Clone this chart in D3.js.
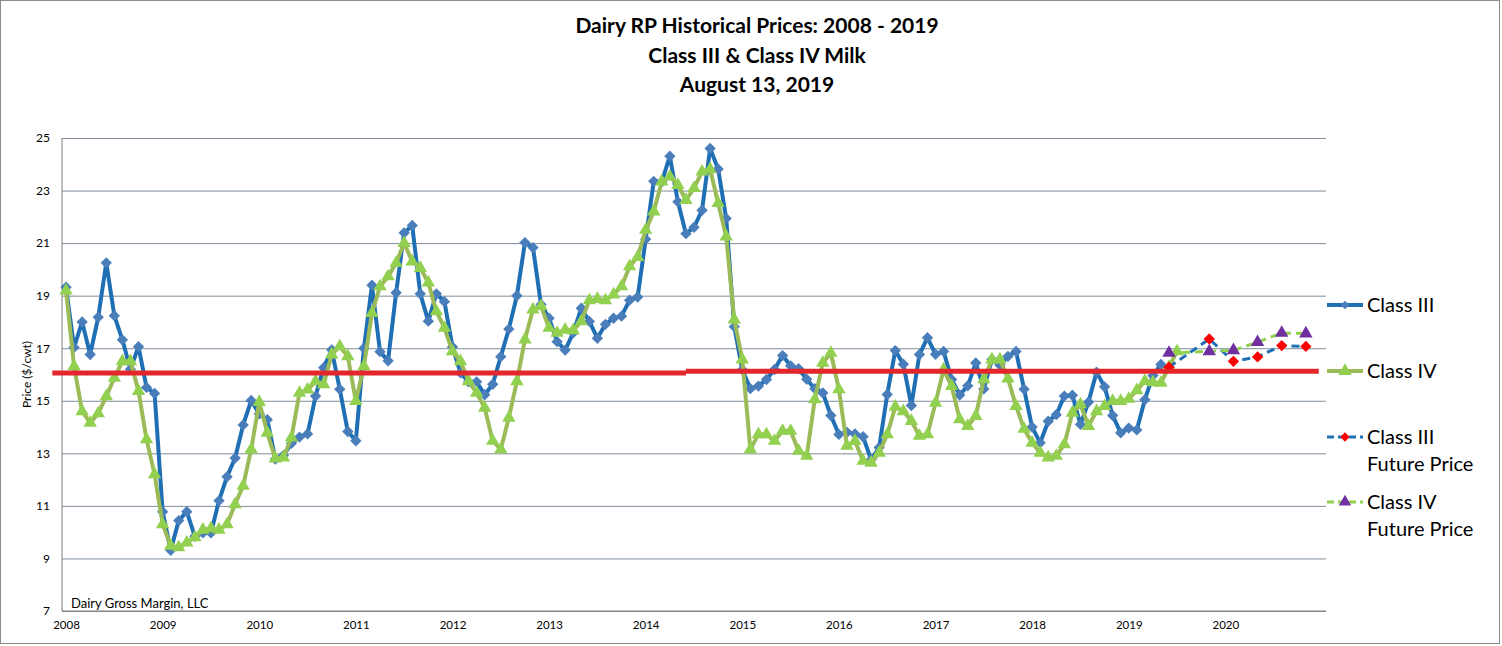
<!DOCTYPE html>
<html>
<head>
<meta charset="utf-8">
<script src="https://cdn.jsdelivr.net/npm/d3@7"></script>
<style>
  body { margin: 0; background: #fff; }
  svg { display: block; }
  text { font-family: Lato, "Open Sans", sans-serif; fill: #000; }
</style>
</head>
<body>
<svg id="chart" width="1502" height="646"></svg>
<script>
// Monthly prices ($/cwt), first value is January 2008
const startYear = 2008;

const classIII = [
  19.32, 17.03, 18.00, 16.76, 18.18, 20.25, 18.24, 17.32, 16.20, 17.06, 15.51, 15.28, // 2008
  10.78,  9.31, 10.44, 10.78,  9.84,  9.97,  9.97, 11.20, 12.11, 12.82, 14.08, 15.01, // 2009
  14.50, 14.28, 12.78, 12.92, 13.38, 13.62, 13.74, 15.18, 16.26, 16.94, 15.44, 13.83, // 2010
  13.48, 17.00, 19.40, 16.87, 16.52, 19.11, 21.39, 21.67, 19.07, 18.03, 19.07, 18.77, // 2011
  17.05, 16.06, 15.72, 15.72, 15.23, 15.63, 16.68, 17.73, 19.00, 21.02, 20.83, 18.66, // 2012
  18.14, 17.25, 16.93, 17.59, 18.52, 18.02, 17.38, 17.91, 18.14, 18.22, 18.83, 18.95, // 2013
  21.15, 23.35, 23.33, 24.31, 22.57, 21.36, 21.60, 22.25, 24.60, 23.82, 21.94, 17.82, // 2014
  16.18, 15.46, 15.56, 15.81, 16.19, 16.72, 16.33, 16.22, 15.82, 15.46, 15.30, 14.44, // 2015
  13.72, 13.80, 13.74, 13.63, 12.76, 13.22, 15.24, 16.91, 16.39, 14.82, 16.76, 17.40, // 2016
  16.77, 16.88, 15.81, 15.22, 15.57, 16.44, 15.45, 16.57, 16.36, 16.69, 16.88, 15.44, // 2017
  14.00, 13.40, 14.22, 14.47, 15.18, 15.21, 14.10, 14.95, 16.09, 15.53, 14.44, 13.78, // 2018
  13.96, 13.89, 15.04, 15.96, 16.38, 16.27                                            // 2019
];

const classIV = [
  19.19, 16.31, 14.60, 14.16, 14.52, 15.17, 15.87, 16.50, 16.50, 15.37, 13.53, 12.20, // 2008
  10.30,  9.48,  9.42,  9.60,  9.80, 10.09, 10.14, 10.09, 10.30, 11.06, 11.76, 13.15, // 2009
  14.95, 13.78, 12.80, 12.84, 13.60, 15.30, 15.42, 15.74, 15.62, 16.76, 17.07, 16.69, // 2010
  14.99, 16.31, 18.34, 19.35, 19.73, 20.24, 21.00, 20.30, 20.05, 19.50, 18.40, 17.77, // 2011
  16.88, 16.50, 15.74, 15.30, 14.73, 13.47, 13.15, 14.35, 15.74, 17.33, 18.47, 18.60, // 2012
  17.77, 17.58, 17.70, 17.68, 18.02, 18.82, 18.87, 18.82, 19.04, 19.35, 20.11, 20.47, // 2013
  21.50, 22.20, 23.34, 23.53, 23.21, 22.64, 23.09, 23.72, 23.81, 22.52, 21.25, 18.09, // 2014
  16.57, 13.15, 13.72, 13.72, 13.47, 13.85, 13.85, 13.09, 12.90, 15.05, 16.44, 16.82, // 2015
  15.43, 13.28, 13.47, 12.71, 12.64, 13.02, 13.72, 14.77, 14.60, 14.23, 13.66, 13.72, // 2016
  14.92, 16.19, 15.56, 14.29, 14.04, 14.42, 15.81, 16.57, 16.57, 15.84, 14.80, 13.93, // 2017
  13.40, 13.02, 12.84, 12.90, 13.34, 14.54, 14.86, 14.04, 14.60, 14.80, 14.99, 14.99, // 2018
  15.07, 15.40, 15.75, 15.70, 15.68, 16.29, 16.88                                     // 2019
];

const futureMonths = ["2019-06", "2019-11", "2020-02", "2020-05", "2020-08", "2020-11"];
const classIIIFuture = [16.28, 17.35, 16.50, 16.67, 17.10, 17.07];
const classIVFuture = [16.82, 16.88, 16.92, 17.23, 17.58, 17.56];

// red guide line drawn over the chart (two pieces, slight step)
const guideLevels = [16.06, 16.12];
const guideMonths = [-1.2, 77.5, 156.1];

const yTicks = [7, 9, 11, 13, 15, 17, 19, 21, 23, 25];
const yearLabels = ["2008", "2009", "2010", "2011", "2012", "2013", "2014",
                    "2015", "2016", "2017", "2018", "2019", "2020"];
const titleLines = ["Dairy RP Historical Prices: 2008 - 2019",
                    "Class III  & Class IV Milk",
                    "August 13, 2019"];

const colIII = "#1f6fb5", colIIIMark = "#4a7ebb";
const colIV = "#9bbb59", colIVMark = "#92d050";
const colIIIFut = "#ff0000", colIVFut = "#7030a0";

const svg = d3.select("#chart");
const W = 1502, H = 646;

// chart border
svg.append("rect")
  .attr("x", 0.5).attr("y", 0.5).attr("width", W - 3).attr("height", H - 3)
  .attr("fill", "none").attr("stroke", "#8c8c8c");

const monthIndex = s => (+s.slice(0, 4) - startYear) * 12 + (+s.slice(5, 7) - 1);

// slot scale: month i is drawn at the middle of slot i
const x = d3.scaleLinear().domain([0, 157]).range([62, 1326]);
const y = d3.scaleLinear().domain([7, 25]).range([611, 138]);
const xm = i => x(i + 0.5);

// gridlines + y labels
const yAxis = d3.axisLeft(y).tickValues(yTicks).tickSize(-(x(157) - x(0))).tickPadding(12);
const gy = svg.append("g").attr("transform", `translate(${x(0)},0)`).call(yAxis);
gy.select(".domain").remove();
gy.selectAll(".tick line").attr("stroke", "#7f8d9a").attr("stroke-width", 1);
gy.selectAll(".tick text").style("font-size", "12px").style("font-family", "Lato").attr("fill", "#000");

// axis lines
svg.append("line").attr("x1", x(0)).attr("x2", x(0)).attr("y1", y(25)).attr("y2", y(7))
  .attr("stroke", "#7f7f7f");
svg.append("line").attr("x1", x(0)).attr("x2", x(157)).attr("y1", y(7)).attr("y2", y(7))
  .attr("stroke", "#7f7f7f");

// x labels at each January
const xAxis = d3.axisBottom(x)
  .tickValues(yearLabels.map((d, k) => k * 12 + 0.5))
  .tickFormat((d, k) => yearLabels[k])
  .tickSize(0).tickPadding(10);
const gx = svg.append("g").attr("transform", `translate(0,${y(7)})`).call(xAxis);
gx.select(".domain").remove();
gx.selectAll(".tick text").style("font-size", "11.5px").style("font-family", "Lato").attr("fill", "#000");

// y title
svg.append("text")
  .attr("transform", `translate(31,${y(16)}) rotate(-90)`)
  .attr("text-anchor", "middle")
  .style("font-size", "12px")
  .text("Price ($/cwt)");

// title
svg.selectAll(".title").data(titleLines).join("text")
  .attr("class", "title")
  .attr("x", 757).attr("y", (d, k) => 33 + k * 29.5)
  .attr("text-anchor", "middle")
  .style("font-size", "21px").style("font-weight", "bold")
  .text(d => d);

// watermark
svg.append("text").attr("x", 71).attr("y", 608)
  .style("font-size", "13px").text("Dairy Gross Margin, LLC");

const line = d3.line().x(d => xm(d.i)).y(d => y(d.v));
const diamond = d3.symbol(d3.symbolSquare, 64);
const triangle = d3.symbol(d3.symbolTriangle, 78);

function drawSeries(pts, color, width, dash, markColor, sym, rot) {
  svg.append("path").datum(pts)
    .attr("d", line)
    .attr("fill", "none").attr("stroke", color).attr("stroke-width", width)
    .attr("stroke-linejoin", "round")
    .attr("stroke-dasharray", dash);
  svg.append("g").selectAll("path").data(pts).join("path")
    .attr("d", sym)
    .attr("transform", d => `translate(${xm(d.i)},${y(d.v)}) rotate(${rot})`)
    .attr("fill", markColor);
}

const ptsIII = classIII.map((v, i) => ({ i, v }));
const ptsIV = classIV.map((v, i) => ({ i, v }));
const futIII = futureMonths.map((m, k) => ({ i: monthIndex(m), v: classIIIFuture[k] }));
const futIV = futureMonths.map((m, k) => ({ i: monthIndex(m), v: classIVFuture[k] }));

drawSeries(ptsIII, colIII, 4, null, colIIIMark, diamond, 45);
drawSeries(ptsIV, colIV, 4, null, colIVMark, triangle, 0);
drawSeries(futIII, colIII, 3, "8,5", colIIIFut, diamond, 45);
drawSeries(futIV, colIVMark, 3, "8,5", colIVFut, triangle, 0);

// red guide line
guideLevels.forEach((lv, k) => {
  svg.append("line")
    .attr("x1", x(guideMonths[k])).attr("x2", x(guideMonths[k + 1]))
    .attr("y1", y(lv)).attr("y2", y(lv))
    .attr("stroke", "#e2262c").attr("stroke-width", 5);
});

// legend
const legend = [
  { lines: ["Class III"], y: 305, color: colIII, width: 4, dash: null, mark: colIIIMark, sym: d3.symbol(d3.symbolSquare, 36), rot: 45 },
  { lines: ["Class IV"], y: 371, color: colIV, width: 4, dash: null, mark: colIVMark, sym: d3.symbol(d3.symbolTriangle, 80), rot: 0 },
  { lines: ["Class III", "Future Price"], y: 437, color: colIII, width: 3, dash: "7,4", mark: colIIIFut, sym: d3.symbol(d3.symbolSquare, 44), rot: 45 },
  { lines: ["Class IV", "Future Price"], y: 502, color: colIVMark, width: 3, dash: "7,4", mark: colIVFut, sym: d3.symbol(d3.symbolTriangle, 66), rot: 0 }
];
const lg = svg.append("g").selectAll("g").data(legend).join("g")
  .attr("transform", d => `translate(1327,${d.y})`);
lg.append("line").attr("x1", 0).attr("x2", 36)
  .attr("stroke", d => d.color).attr("stroke-width", d => d.width)
  .attr("stroke-dasharray", d => d.dash);
lg.append("path").attr("d", d => d.sym())
  .attr("transform", d => `translate(18,0) rotate(${d.rot})`)
  .attr("fill", d => d.mark);
lg.each(function (d) {
  d3.select(this).selectAll("text").data(d.lines).join("text")
    .attr("x", 40).attr("y", (t, k) => 7 + k * 27)
    .style("font-size", "20px")
    .text(t => t);
});
</script>
</body>
</html>
